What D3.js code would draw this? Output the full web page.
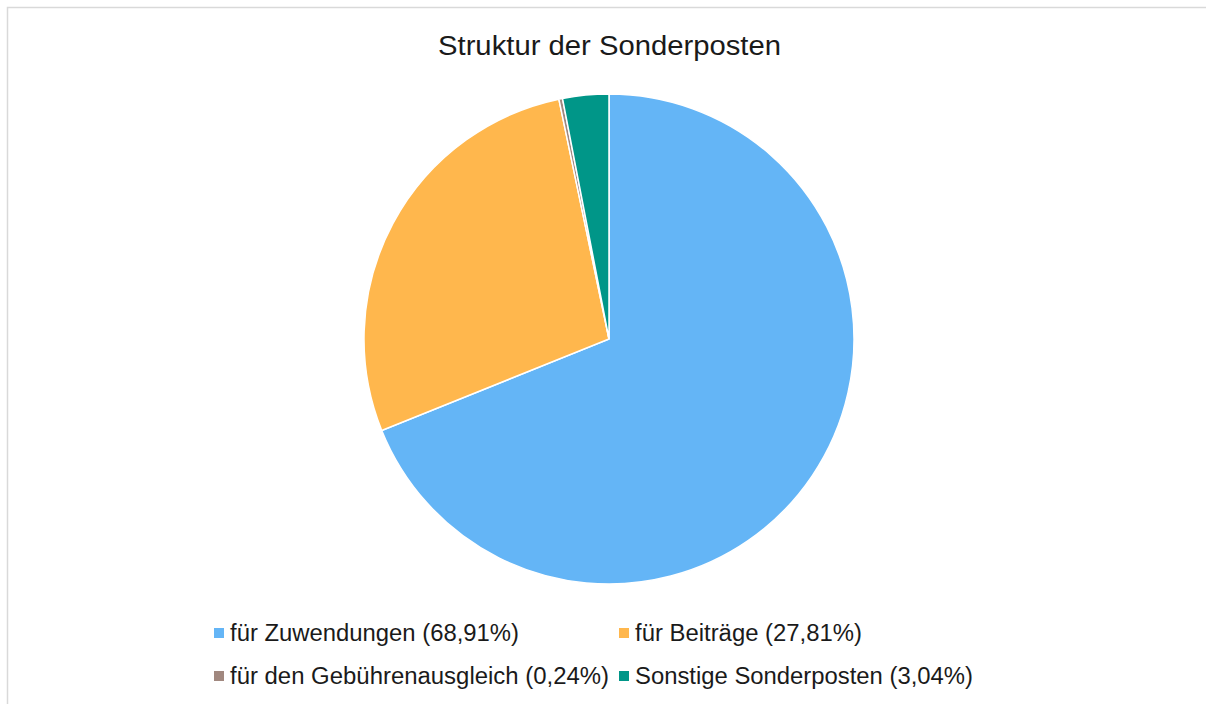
<!DOCTYPE html>
<html>
<head>
<meta charset="utf-8">
<script src="https://cdn.jsdelivr.net/npm/d3@7"></script>
<style>
  body { margin: 0; background: #fff; }
  text { font-family: "Liberation Sans", Arial, sans-serif; fill: #1a1a1a; }
</style>
</head>
<body>
<div id="vis"></div>
<script>
// Slice data
var categories = ['für Zuwendungen', 'für Beiträge', 'für den Gebührenausgleich', 'Sonstige Sonderposten'];
var shares = [68.91, 27.81, 0.24, 3.04];
var labels = ['68,91%', '27,81%', '0,24%', '3,04%'];
var colors = ['#64b5f6', '#ffb74d', '#a1887f', '#009688'];

var data = categories.map(function(c, i) {
    return { name: c, value: shares[i], label: labels[i], color: colors[i] };
});

// Legend layout: position of each entry and rendered text width
var legendPos = [[214, 633], [619, 633], [214, 676], [619, 676]];
var legendWidth = [289, 227, 379, 338];

var svg = d3.select('#vis')
    .append('svg')
    .attr('width', 1206)
    .attr('height', 704);

// Chart border
svg.append('rect')
    .attr('x', 7.5)
    .attr('y', 7.5)
    .attr('width', 1220)
    .attr('height', 720)
    .attr('fill', '#fff')
    .attr('stroke', '#d9d9d9')
    .attr('stroke-width', 1.5);

// Title
svg.append('text')
    .attr('x', 438)
    .attr('y', 55)
    .attr('textLength', 343)
    .attr('lengthAdjust', 'spacingAndGlyphs')
    .style('font-size', '27px')
    .text('Struktur der Sonderposten');

// Pie
var radius = 245;
var g = svg.append('g')
    .attr('transform', 'translate(609,339)');

var pie = d3.pie()
    .sort(null)
    .value(function(d) { return d.value; });

var arc = d3.arc()
    .innerRadius(0)
    .outerRadius(radius);

g.selectAll('path')
    .data(pie(data))
    .enter().append('path')
    .attr('d', arc)
    .attr('fill', function(d) { return d.data.color; })
    .attr('stroke', '#fff')
    .attr('stroke-width', 1.5);

// Legend
var legend = svg.selectAll('.legend')
    .data(data)
    .enter().append('g')
    .attr('class', 'legend')
    .attr('transform', function(d, i) {
        return 'translate(' + legendPos[i][0] + ',' + legendPos[i][1] + ')';
    });

legend.append('rect')
    .attr('x', 0)
    .attr('y', -5)
    .attr('width', 10)
    .attr('height', 10)
    .attr('fill', function(d) { return d.color; });

legend.append('text')
    .attr('x', 16)
    .attr('y', 8)
    .attr('textLength', function(d, i) { return legendWidth[i]; })
    .attr('lengthAdjust', 'spacingAndGlyphs')
    .style('font-size', '23px')
    .text(function(d) { return d.name + ' (' + d.label + ')'; });
</script>
</body>
</html>
